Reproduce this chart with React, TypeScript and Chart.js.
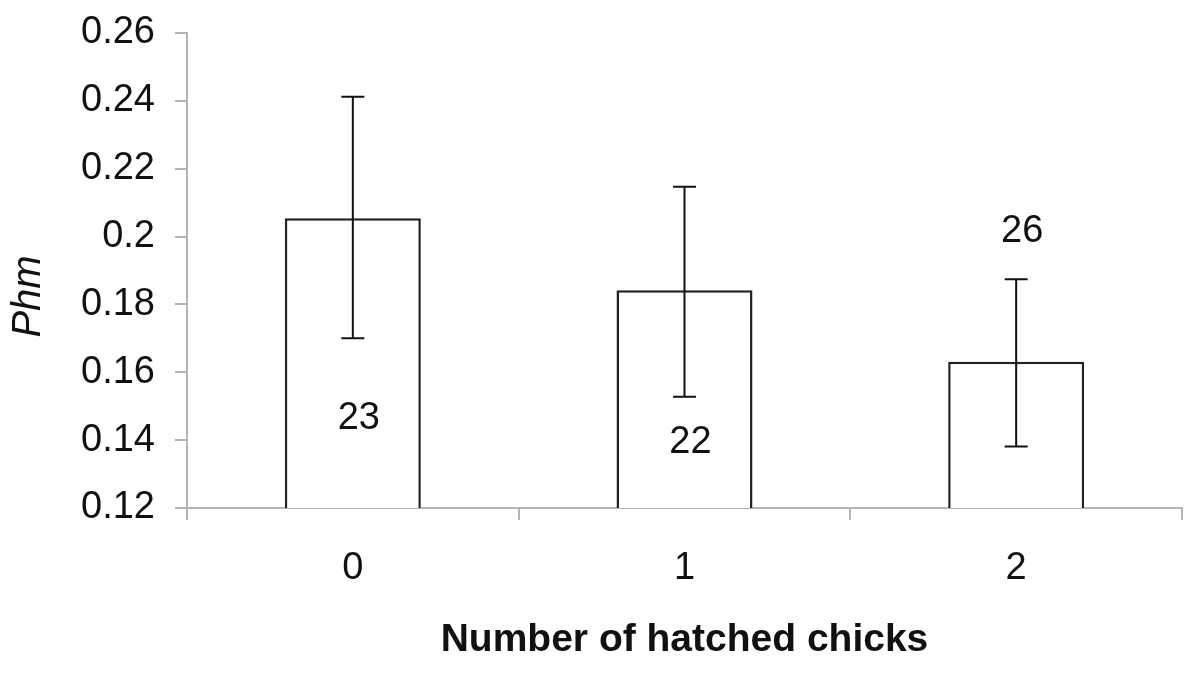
import React, { useEffect, useRef } from "react";
import { Chart, registerables } from "chart.js";

Chart.register(...registerables);

const categories = ["0", "1", "2"];
const barValues = [0.2054, 0.1842, 0.1631];
const errLow = [0.17, 0.1528, 0.1381];
const errHigh = [0.2412, 0.2147, 0.1874];
const sampleSizes = ["23", "22", "26"];
const sampleLabelY = [0.1464, 0.1392, 0.2014];
const yTicks = [0.12, 0.14, 0.16, 0.18, 0.2, 0.22, 0.24, 0.26];
const yTitle = "Phm";
const xTitle = "Number of hatched chicks";

const FONT = "'Liberation Sans', Arial, sans-serif";
const AXIS_COLOR = "#b4b4b4";
const INK = "#111111";

const errorBarPlugin = {
  id: "errorBars",
  afterDatasetsDraw(chart: any) {
    const ctx = chart.ctx;
    const meta = chart.getDatasetMeta(0);
    const y = chart.scales.y;
    ctx.save();
    ctx.strokeStyle = INK;
    ctx.lineWidth = 2;
    const cap = 11.5;
    meta.data.forEach((bar: any, i: number) => {
      const x = bar.x;
      const yh = y.getPixelForValue(errHigh[i]);
      const yl = y.getPixelForValue(errLow[i]);
      ctx.beginPath();
      ctx.moveTo(x, yh);
      ctx.lineTo(x, yl);
      ctx.moveTo(x - cap, yh);
      ctx.lineTo(x + cap, yh);
      ctx.moveTo(x - cap, yl);
      ctx.lineTo(x + cap, yl);
      ctx.stroke();
    });
    // sample size labels
    ctx.fillStyle = INK;
    ctx.font = `38px ${FONT}`;
    ctx.textAlign = "center";
    ctx.textBaseline = "middle";
    meta.data.forEach((bar: any, i: number) => {
      ctx.fillText(sampleSizes[i], bar.x + 6, y.getPixelForValue(sampleLabelY[i]));
    });
    // y axis title (rotated)
    const ca = chart.chartArea;
    ctx.save();
    ctx.translate(29, (ca.top + ca.bottom) / 2 + 26);
    ctx.rotate(-Math.PI / 2);
    ctx.font = `italic 40px ${FONT}`;
    ctx.fillText(yTitle, 0, 0);
    ctx.restore();
    ctx.restore();
  },
};

export default function App() {
  const ref = useRef<HTMLCanvasElement | null>(null);
  useEffect(() => {
    if (!ref.current) return;
    const chart = new Chart(ref.current, {
      type: "bar",
      data: {
        labels: categories,
        datasets: [
          {
            data: barValues,
            backgroundColor: "#ffffff",
            borderColor: "#222222",
            borderWidth: 2.5,
            borderSkipped: false,
            categoryPercentage: 1,
            barPercentage: 0.41,
          },
        ],
      },
      options: {
        animation: false,
        responsive: true,
        maintainAspectRatio: false,
        layout: { padding: { top: 33, right: 18, left: 0, bottom: 0 } },
        plugins: {
          legend: { display: false },
          tooltip: { enabled: false },
        },
        scales: {
          x: {
            offset: true,
            grid: {
              offset: true,
              drawOnChartArea: false,
              drawTicks: true,
              tickLength: 12,
              color: AXIS_COLOR,
              lineWidth: 2,
            },
            border: { display: true, color: AXIS_COLOR, width: 2 },
            ticks: {
              color: INK,
              padding: 26,
              font: { family: FONT, size: 38 },
            },
            title: {
              display: true,
              text: xTitle,
              color: INK,
              font: { family: FONT, size: 39, weight: "bold" },
              padding: { top: 0, bottom: 19 },
            },
            afterFit(scale: any) {
              scale.height = 175;
              scale.paddingLeft = 0;
              scale.paddingRight = 0;
            },
          },
          y: {
            min: 0.12,
            max: 0.26,
            grid: {
              drawOnChartArea: false,
              drawTicks: true,
              tickLength: 12,
              color: AXIS_COLOR,
              lineWidth: 2,
            },
            border: { display: true, color: AXIS_COLOR, width: 2 },
            afterBuildTicks(scale: any) {
              scale.ticks = yTicks.map((v) => ({ value: v }));
            },
            ticks: {
              color: INK,
              padding: 20,
              font: { family: FONT, size: 38 },
              callback: (v: any) => String(Number(Number(v).toFixed(2))),
            },
            afterFit(scale: any) {
              scale.width = 187;
              scale.paddingTop = 0;
              scale.paddingBottom = 0;
            },
          },
        },
      },
      plugins: [errorBarPlugin],
    });
    return () => chart.destroy();
  }, []);
  return (
    <div style={{ position: "absolute", left: 0, top: 0, width: 1200, height: 683, background: "#fff" }}>
      <canvas ref={ref} />
    </div>
  );
}
